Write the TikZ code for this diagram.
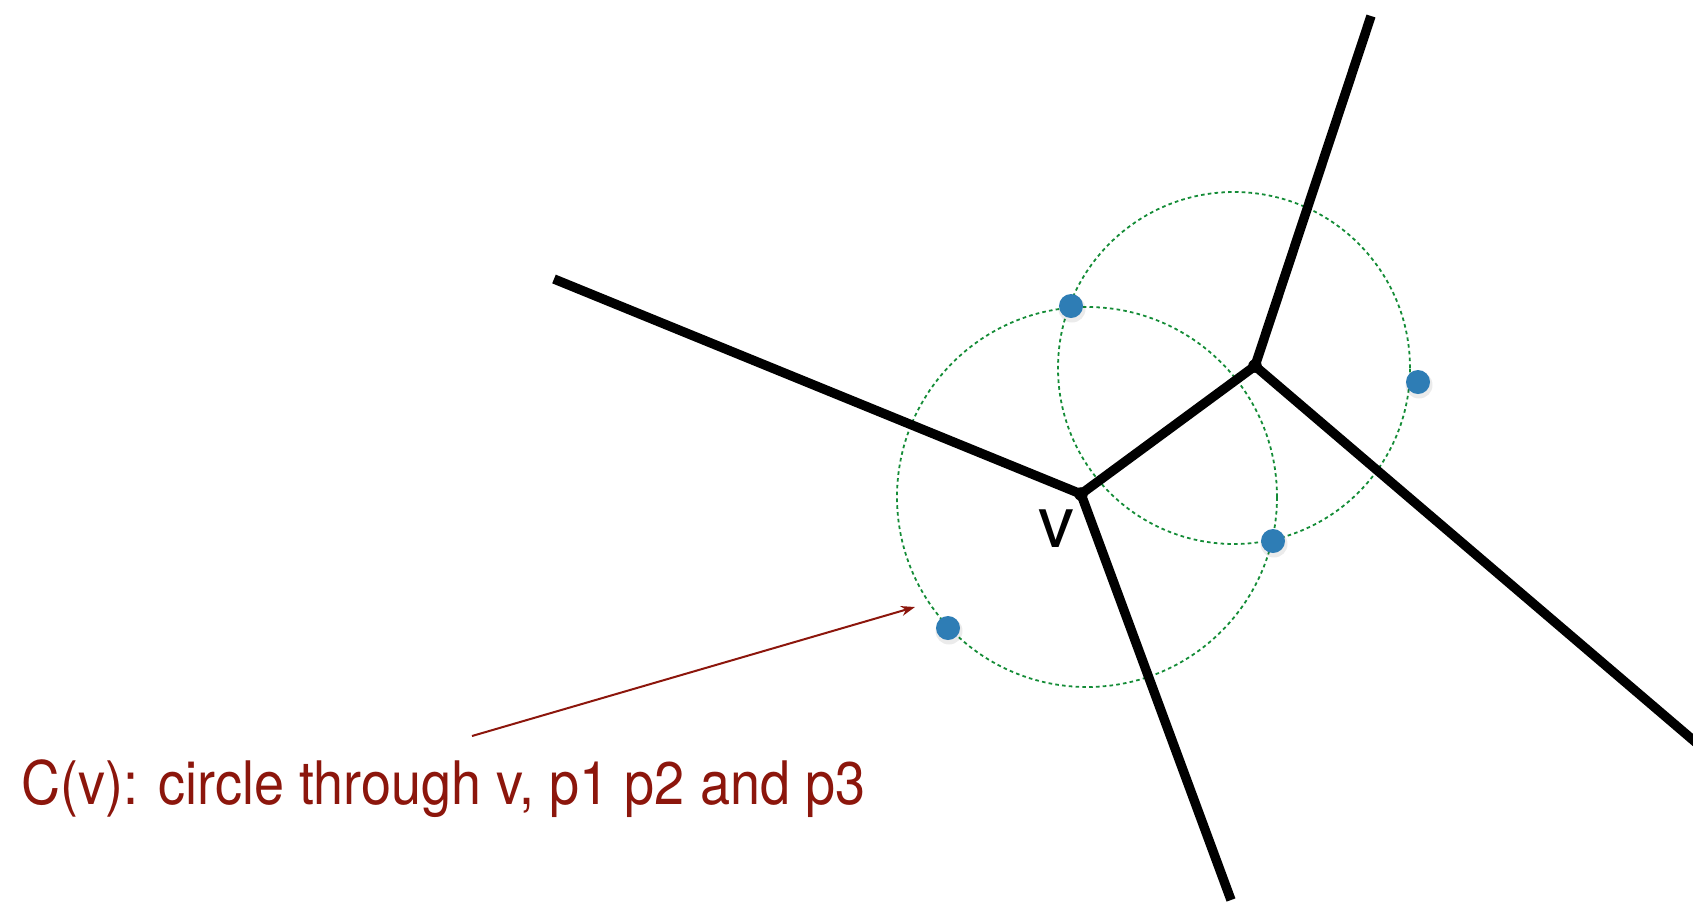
\documentclass[tikz,border=0pt]{standalone}
\usepackage{fontspec}
\setmainfont{TeX Gyre Heros}
\usetikzlibrary{arrows.meta}
\definecolor{siteblue}{RGB}{46,125,181}
\definecolor{circgreen}{RGB}{20,140,55}
\definecolor{capred}{RGB}{140,22,12}
\begin{document}
\begin{tikzpicture}[x=0.5pt,y=-0.5pt,
  edge/.style={line width=4.7pt, line join=round},
  site/.style={circle, fill=siteblue, minimum size=12pt, inner sep=0pt},
  ccirc/.style={draw=circgreen, line width=0.9pt, dash pattern=on 1.8pt off 1.6pt},
  pointer/.style={draw=capred, line width=1pt, -{Stealth[length=7pt,width=5pt]}},
  shadow/.style={circle, fill=black, opacity=0.08, minimum size=13.5pt, inner sep=0pt}]
\useasboundingbox (0,0) rectangle (1693,901);
% Voronoi vertices and edge ends
\coordinate (v) at (1081,494);
\coordinate (w) at (1255,366);
\coordinate (eL) at (554,279);
\coordinate (eB) at (1231,900);
\coordinate (eT) at (1371,16);
\coordinate (eR) at (1700,746);
% circles
\draw[ccirc] (1087,497) circle (95pt);
\draw[ccirc] (1234,368) circle (88pt);
% edges
\draw[edge] (eL) -- (v) -- (eB);
\draw[edge] (v) -- (w);
\draw[edge] (eT) -- (w) -- (eR);
\fill (v) circle (3.4pt);
\fill (w) circle (3.4pt);
% sites
\foreach \x/\y in {1071/306, 1418/382, 1273/541, 948/628}{
  \node[shadow] at (\x+1,\y+3) {};
}
\node[site] (s1) at (1071,306) {};
\node[site] (s2) at (1418,382) {};
\node[site] (s3) at (1273,541) {};
\node[site] (s4) at (948,628) {};
% label v
\node[font=\fontsize{36}{40}\selectfont, inner sep=0pt] (vl) at (1056,529) {v};
% caption and pointer
\node[anchor=base west, text=capred, font=\fontsize{30}{36}\selectfont, inner sep=0pt] (cap) at (21,804) {\scalebox{0.9}[1]{C(v): circle through v, p1 p2 and p3}};
\coordinate (a0) at (472,736);
\coordinate (a1) at (915,607);
\draw[pointer] (a0) -- (a1);
\end{tikzpicture}
\end{document}
